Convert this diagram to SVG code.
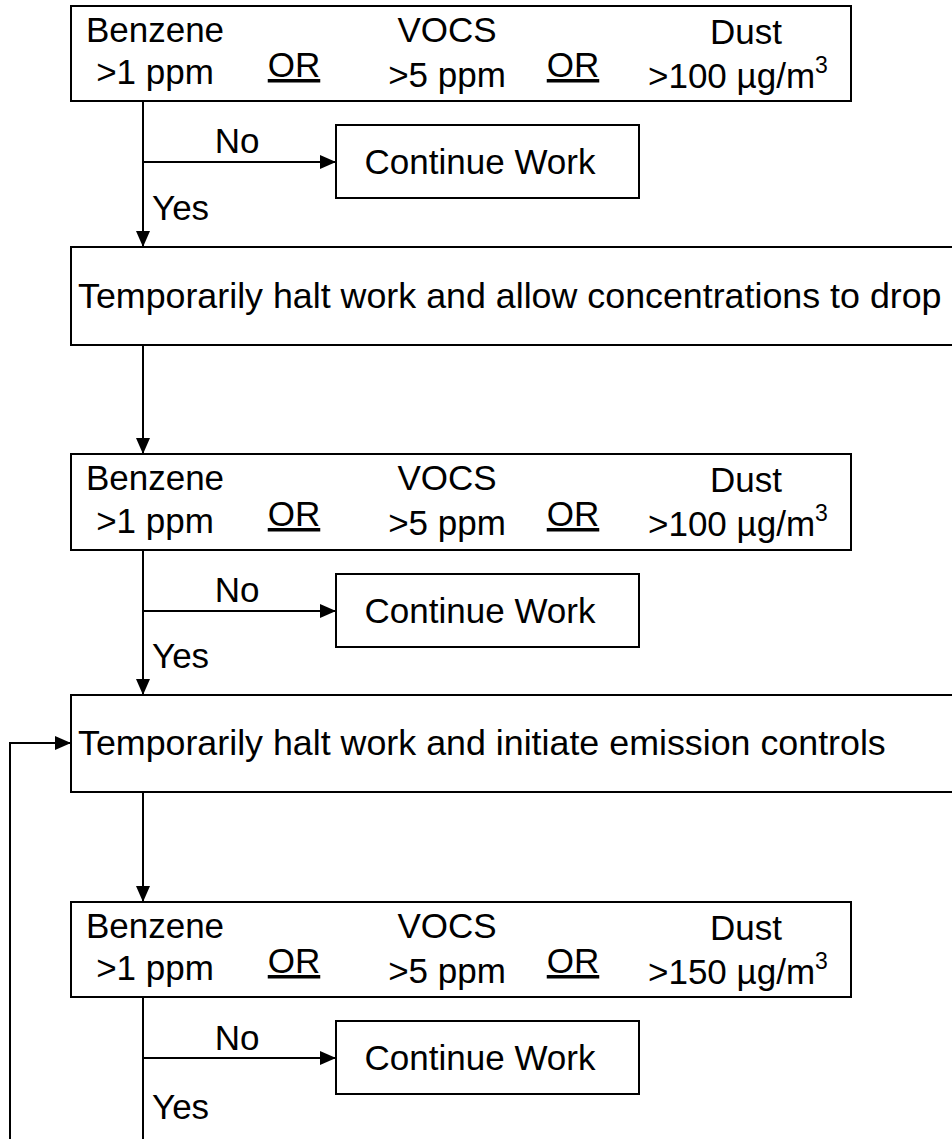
<svg xmlns="http://www.w3.org/2000/svg" width="952" height="1139" viewBox="0 0 952 1139">
<style>
.box{fill:#fff;stroke:#000;stroke-width:2}
.t{font-family:"Liberation Sans",Arial,sans-serif;font-size:35px;fill:#000}
.h{font-size:35.8px}
.c{text-anchor:middle}
.u{text-decoration:underline}
.ln{fill:none;stroke:#000;stroke-width:2}
</style>
<defs>
<marker id="ah" markerWidth="16" markerHeight="14" refX="16" refY="7" orient="auto" markerUnits="userSpaceOnUse">
<path d="M0,0 L16,7 L0,14 Z" fill="#000"/>
</marker>
</defs>
<g id="connectors">
<path class="ln" d="M143,101 V247" marker-end="url(#ah)"/>
<path class="ln" d="M143,162 H336" marker-end="url(#ah)"/>
<path class="ln" d="M143,345 V454" marker-end="url(#ah)"/>
<path class="ln" d="M143,550 V695" marker-end="url(#ah)"/>
<path class="ln" d="M143,611 H336" marker-end="url(#ah)"/>
<path class="ln" d="M143,792 V902" marker-end="url(#ah)"/>
<path class="ln" d="M143,997 V1139"/>
<path class="ln" d="M143,1058 H336" marker-end="url(#ah)"/>
<path class="ln" d="M10,1139 V743 H71" marker-end="url(#ah)"/>
<text class="t c" x="237" y="153">No</text>
<text class="t" x="152" y="220">Yes</text>
<text class="t c" x="237" y="602">No</text>
<text class="t" x="152" y="668">Yes</text>
<text class="t c" x="237" y="1050">No</text>
<text class="t" x="152" y="1119">Yes</text>
</g>
<g id="cond1">
<rect class="box" x="71" y="6" width="780" height="95"/>
<text class="t c" x="155" y="42">Benzene</text>
<text class="t c" x="155" y="84">&gt;1 ppm</text>
<text class="t c u" x="294" y="77">OR</text>
<text class="t c" x="447" y="42">VOCS</text>
<text class="t c" x="447" y="87">&gt;5 ppm</text>
<text class="t c u" x="573" y="77">OR</text>
<text class="t c" x="746" y="44">Dust</text>
<text class="t" x="648" y="88">&gt;100 µg/m<tspan font-size="23" dy="-15">3</tspan></text>
</g>
<g id="cont1">
<rect class="box" x="336" y="125" width="303" height="73"/>
<text class="t c" x="480" y="174">Continue Work</text>
</g>
<g id="halt1">
<rect class="box" x="71" y="247" width="900" height="98"/>
<text class="t h" x="78" y="308">Temporarily halt work and allow concentrations to drop</text>
</g>
<g id="cond2">
<rect class="box" x="71" y="454" width="780" height="96"/>
<text class="t c" x="155" y="490">Benzene</text>
<text class="t c" x="155" y="533">&gt;1 ppm</text>
<text class="t c u" x="294" y="526">OR</text>
<text class="t c" x="447" y="490">VOCS</text>
<text class="t c" x="447" y="535">&gt;5 ppm</text>
<text class="t c u" x="573" y="526">OR</text>
<text class="t c" x="746" y="492">Dust</text>
<text class="t" x="648" y="536">&gt;100 µg/m<tspan font-size="23" dy="-15">3</tspan></text>
</g>
<g id="cont2">
<rect class="box" x="336" y="574" width="303" height="73"/>
<text class="t c" x="480" y="623">Continue Work</text>
</g>
<g id="halt2">
<rect class="box" x="71" y="695" width="900" height="97"/>
<text class="t h" x="78" y="755">Temporarily halt work and initiate emission controls</text>
</g>
<g id="cond3">
<rect class="box" x="71" y="902" width="780" height="95"/>
<text class="t c" x="155" y="938">Benzene</text>
<text class="t c" x="155" y="980">&gt;1 ppm</text>
<text class="t c u" x="294" y="973">OR</text>
<text class="t c" x="447" y="938">VOCS</text>
<text class="t c" x="447" y="983">&gt;5 ppm</text>
<text class="t c u" x="573" y="973">OR</text>
<text class="t c" x="746" y="940">Dust</text>
<text class="t" x="648" y="984">&gt;150 µg/m<tspan font-size="23" dy="-15">3</tspan></text>
</g>
<g id="cont3">
<rect class="box" x="336" y="1021" width="303" height="73"/>
<text class="t c" x="480" y="1070">Continue Work</text>
</g>
</svg>
